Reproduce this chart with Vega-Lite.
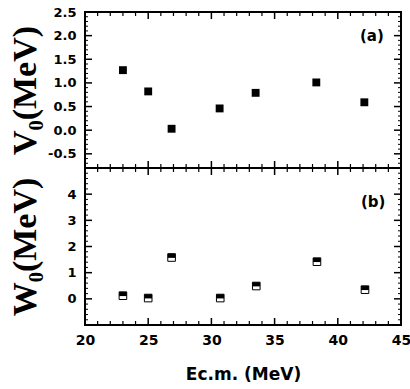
{
  "$schema": "https://vega.github.io/schema/vega-lite/v6.json",
  "padding": {"left": 7, "top": 5, "right": 5, "bottom": 5},
  "background": "white",
  "datasets": {
    "a": [
      {"E": 23.0, "V": 1.27},
      {"E": 25.0, "V": 0.82},
      {"E": 26.85, "V": 0.03},
      {"E": 30.65, "V": 0.46},
      {"E": 33.5, "V": 0.79},
      {"E": 38.3, "V": 1.01},
      {"E": 42.1, "V": 0.59}
    ],
    "b": [
      {"E": 23.0, "W": 0.12},
      {"E": 25.0, "W": 0.03},
      {"E": 26.85, "W": 1.58},
      {"E": 30.7, "W": 0.03},
      {"E": 33.55, "W": 0.49},
      {"E": 38.35, "W": 1.42},
      {"E": 42.15, "W": 0.35}
    ],
    "labA": [{"E": 42.7, "V": 2.0, "label": "(a)"}],
    "labB": [{"E": 42.8, "W": 3.7, "label": "(b)"}],
    "xmaj": [{"E": 20}, {"E": 25}, {"E": 30}, {"E": 35}, {"E": 40}, {"E": 45}],
    "xmin": [{"E": 21}, {"E": 22}, {"E": 23}, {"E": 24}, {"E": 26}, {"E": 27}, {"E": 28}, {"E": 29}, {"E": 31}, {"E": 32}, {"E": 33}, {"E": 34}, {"E": 36}, {"E": 37}, {"E": 38}, {"E": 39}, {"E": 41}, {"E": 42}, {"E": 43}, {"E": 44}],
    "vmaj": [{"V": -0.5}, {"V": 0}, {"V": 0.5}, {"V": 1}, {"V": 1.5}, {"V": 2}, {"V": 2.5}],
    "vmin": [{"V": -0.7}, {"V": -0.6}, {"V": -0.4}, {"V": -0.3}, {"V": -0.2}, {"V": -0.1}, {"V": 0.1}, {"V": 0.2}, {"V": 0.3}, {"V": 0.4}, {"V": 0.6}, {"V": 0.7}, {"V": 0.8}, {"V": 0.9}, {"V": 1.1}, {"V": 1.2}, {"V": 1.3}, {"V": 1.4}, {"V": 1.6}, {"V": 1.7}, {"V": 1.8}, {"V": 1.9}, {"V": 2.1}, {"V": 2.2}, {"V": 2.3}, {"V": 2.4}],
    "wmaj": [{"W": 0}, {"W": 1}, {"W": 2}, {"W": 3}, {"W": 4}],
    "wmin": [{"W": -0.8}, {"W": -0.6}, {"W": -0.4}, {"W": -0.2}, {"W": 0.2}, {"W": 0.4}, {"W": 0.6}, {"W": 0.8}, {"W": 1.2}, {"W": 1.4}, {"W": 1.6}, {"W": 1.8}, {"W": 2.2}, {"W": 2.4}, {"W": 2.6}, {"W": 2.8}, {"W": 3.2}, {"W": 3.4}, {"W": 3.6}, {"W": 3.8}, {"W": 4.2}, {"W": 4.4}, {"W": 4.6}, {"W": 4.8}]
  },
  "vconcat": [
    {
      "width": 316,
      "height": 156,
      "resolve": {"axis": {"x": "independent", "y": "independent"}},
      "layer": [
        {
          "data": {"name": "a"},
          "mark": {"type": "point", "shape": "square", "filled": true, "color": "black", "size": 62, "opacity": 1},
          "encoding": {
            "x": {"field": "E", "type": "quantitative", "scale": {"domain": [20, 45], "nice": false, "zero": false},
              "axis": {"orient": "bottom", "labels": false, "ticks": false, "domain": false, "grid": false, "title": null}},
            "y": {"field": "V", "type": "quantitative", "scale": {"domain": [-0.8, 2.5], "nice": false, "zero": false},
              "axis": {"orient": "left", "ticks": false, "domain": false, "grid": false,
                "values": [-0.5, 0, 0.5, 1, 1.5, 2, 2.5],
                "labelExpr": "replace(format(datum.value, '.1f'), '\u2212', '-')",
                "labelPadding": 9, "labelFontSize": 13,
                "title": "V₀(MeV)", "titleFont": "Liberation Serif", "titleFontSize": 34, "titleFontWeight": "bold",
                "minExtent": 38, "maxExtent": 38, "titlePadding": 5}}
          }
        },
        {
          "data": {"name": "xmaj"},
          "mark": {"type": "tick", "orient": "vertical", "color": "black", "opacity": 1, "size": 14, "thickness": 1.5, "clip": true},
          "encoding": {"x": {"field": "E", "type": "quantitative", "axis": null}, "y": {"datum": -0.8, "type": "quantitative", "axis": null}}
        },
        {
          "data": {"name": "xmaj"},
          "mark": {"type": "tick", "orient": "vertical", "color": "black", "opacity": 1, "size": 14, "thickness": 1.5, "clip": true},
          "encoding": {"x": {"field": "E", "type": "quantitative", "axis": null}, "y": {"datum": 2.5, "type": "quantitative", "axis": null}}
        },
        {
          "data": {"name": "xmin"},
          "mark": {"type": "tick", "orient": "vertical", "color": "black", "opacity": 1, "size": 8, "thickness": 1.2, "clip": true},
          "encoding": {"x": {"field": "E", "type": "quantitative", "axis": null}, "y": {"datum": -0.8, "type": "quantitative", "axis": null}}
        },
        {
          "data": {"name": "xmin"},
          "mark": {"type": "tick", "orient": "vertical", "color": "black", "opacity": 1, "size": 8, "thickness": 1.2, "clip": true},
          "encoding": {"x": {"field": "E", "type": "quantitative", "axis": null}, "y": {"datum": 2.5, "type": "quantitative", "axis": null}}
        },
        {
          "data": {"name": "vmaj"},
          "mark": {"type": "tick", "orient": "horizontal", "color": "black", "opacity": 1, "size": 14, "thickness": 1.5, "clip": true},
          "encoding": {"y": {"field": "V", "type": "quantitative", "axis": null}, "x": {"datum": 20, "type": "quantitative", "axis": null}}
        },
        {
          "data": {"name": "vmaj"},
          "mark": {"type": "tick", "orient": "horizontal", "color": "black", "opacity": 1, "size": 14, "thickness": 1.5, "clip": true},
          "encoding": {"y": {"field": "V", "type": "quantitative", "axis": null}, "x": {"datum": 45, "type": "quantitative", "axis": null}}
        },
        {
          "data": {"name": "vmin"},
          "mark": {"type": "tick", "orient": "horizontal", "color": "black", "opacity": 1, "size": 6, "thickness": 1, "clip": true},
          "encoding": {"y": {"field": "V", "type": "quantitative", "axis": null}, "x": {"datum": 20, "type": "quantitative", "axis": null}}
        },
        {
          "data": {"name": "vmin"},
          "mark": {"type": "tick", "orient": "horizontal", "color": "black", "opacity": 1, "size": 6, "thickness": 1, "clip": true},
          "encoding": {"y": {"field": "V", "type": "quantitative", "axis": null}, "x": {"datum": 45, "type": "quantitative", "axis": null}}
        },
        {
          "data": {"name": "labA"},
          "mark": {"type": "text", "font": "DejaVu Sans", "fontWeight": "bold", "fontSize": 15, "color": "black"},
          "encoding": {
            "x": {"field": "E", "type": "quantitative", "axis": null},
            "y": {"field": "V", "type": "quantitative", "axis": null},
            "text": {"field": "label"}
          }
        }
      ]
    },
    {
      "width": 316,
      "height": 157,
      "resolve": {"axis": {"x": "independent", "y": "independent"}},
      "layer": [
        {
          "data": {"name": "b"},
          "mark": {"type": "point", "shape": "square", "filled": true, "fill": "white", "stroke": "black", "strokeWidth": 1, "size": 58, "opacity": 1},
          "encoding": {
            "x": {"field": "E", "type": "quantitative", "scale": {"domain": [20, 45], "nice": false, "zero": false},
              "axis": {"orient": "bottom", "domain": false, "grid": false, "ticks": false,
                "values": [20, 25, 30, 35, 40, 45],
                "labelFlush": false, "labelPadding": 8, "labelFontSize": 14,
                "title": "Ec.m. (MeV)", "titleFontSize": 17, "titleFontWeight": "bold", "titlePadding": 19}},
            "y": {"field": "W", "type": "quantitative", "scale": {"domain": [-1, 5], "nice": false, "zero": false},
              "axis": {"orient": "left", "domain": false, "grid": false, "ticks": false,
                "values": [0, 1, 2, 3, 4], "format": "d",
                "labelPadding": 9, "labelFontSize": 13,
                "title": "W₀(MeV)", "titleFont": "Liberation Serif", "titleFontSize": 34, "titleFontWeight": "bold",
                "minExtent": 38, "maxExtent": 38, "titlePadding": 5}}
          }
        },
        {
          "data": {"name": "b"},
          "mark": {"type": "point", "shape": "M-1,-1H1V0.1H-1Z", "filled": true, "color": "black", "size": 58, "opacity": 1},
          "encoding": {
            "x": {"field": "E", "type": "quantitative", "axis": null},
            "y": {"field": "W", "type": "quantitative", "axis": null}
          }
        },
        {
          "data": {"name": "xmaj"},
          "mark": {"type": "tick", "orient": "vertical", "color": "black", "opacity": 1, "size": 14, "thickness": 1.5, "clip": true},
          "encoding": {"x": {"field": "E", "type": "quantitative", "axis": null}, "y": {"datum": -1, "type": "quantitative", "axis": null}}
        },
        {
          "data": {"name": "xmaj"},
          "mark": {"type": "tick", "orient": "vertical", "color": "black", "opacity": 1, "size": 14, "thickness": 1.5, "clip": true},
          "encoding": {"x": {"field": "E", "type": "quantitative", "axis": null}, "y": {"datum": 5, "type": "quantitative", "axis": null}}
        },
        {
          "data": {"name": "xmin"},
          "mark": {"type": "tick", "orient": "vertical", "color": "black", "opacity": 1, "size": 8, "thickness": 1.2, "clip": true},
          "encoding": {"x": {"field": "E", "type": "quantitative", "axis": null}, "y": {"datum": -1, "type": "quantitative", "axis": null}}
        },
        {
          "data": {"name": "xmin"},
          "mark": {"type": "tick", "orient": "vertical", "color": "black", "opacity": 1, "size": 8, "thickness": 1.2, "clip": true},
          "encoding": {"x": {"field": "E", "type": "quantitative", "axis": null}, "y": {"datum": 5, "type": "quantitative", "axis": null}}
        },
        {
          "data": {"name": "wmaj"},
          "mark": {"type": "tick", "orient": "horizontal", "color": "black", "opacity": 1, "size": 14, "thickness": 1.5, "clip": true},
          "encoding": {"y": {"field": "W", "type": "quantitative", "axis": null}, "x": {"datum": 20, "type": "quantitative", "axis": null}}
        },
        {
          "data": {"name": "wmaj"},
          "mark": {"type": "tick", "orient": "horizontal", "color": "black", "opacity": 1, "size": 14, "thickness": 1.5, "clip": true},
          "encoding": {"y": {"field": "W", "type": "quantitative", "axis": null}, "x": {"datum": 45, "type": "quantitative", "axis": null}}
        },
        {
          "data": {"name": "wmin"},
          "mark": {"type": "tick", "orient": "horizontal", "color": "black", "opacity": 1, "size": 6, "thickness": 1, "clip": true},
          "encoding": {"y": {"field": "W", "type": "quantitative", "axis": null}, "x": {"datum": 20, "type": "quantitative", "axis": null}}
        },
        {
          "data": {"name": "wmin"},
          "mark": {"type": "tick", "orient": "horizontal", "color": "black", "opacity": 1, "size": 6, "thickness": 1, "clip": true},
          "encoding": {"y": {"field": "W", "type": "quantitative", "axis": null}, "x": {"datum": 45, "type": "quantitative", "axis": null}}
        },
        {
          "data": {"name": "labB"},
          "mark": {"type": "text", "font": "DejaVu Sans", "fontWeight": "bold", "fontSize": 15, "color": "black"},
          "encoding": {
            "x": {"field": "E", "type": "quantitative", "axis": null},
            "y": {"field": "W", "type": "quantitative", "axis": null},
            "text": {"field": "label"}
          }
        }
      ]
    }
  ],
  "spacing": 0,
  "bounds": "flush",
  "config": {
    "font": "DejaVu Sans",
    "view": {"stroke": "black", "strokeWidth": 2},
    "axis": {
      "labelFont": "DejaVu Sans",
      "labelFontWeight": "bold",
      "labelColor": "black",
      "titleColor": "black",
      "labelFlush": false,
      "labelOverlap": false
    }
  }
}
